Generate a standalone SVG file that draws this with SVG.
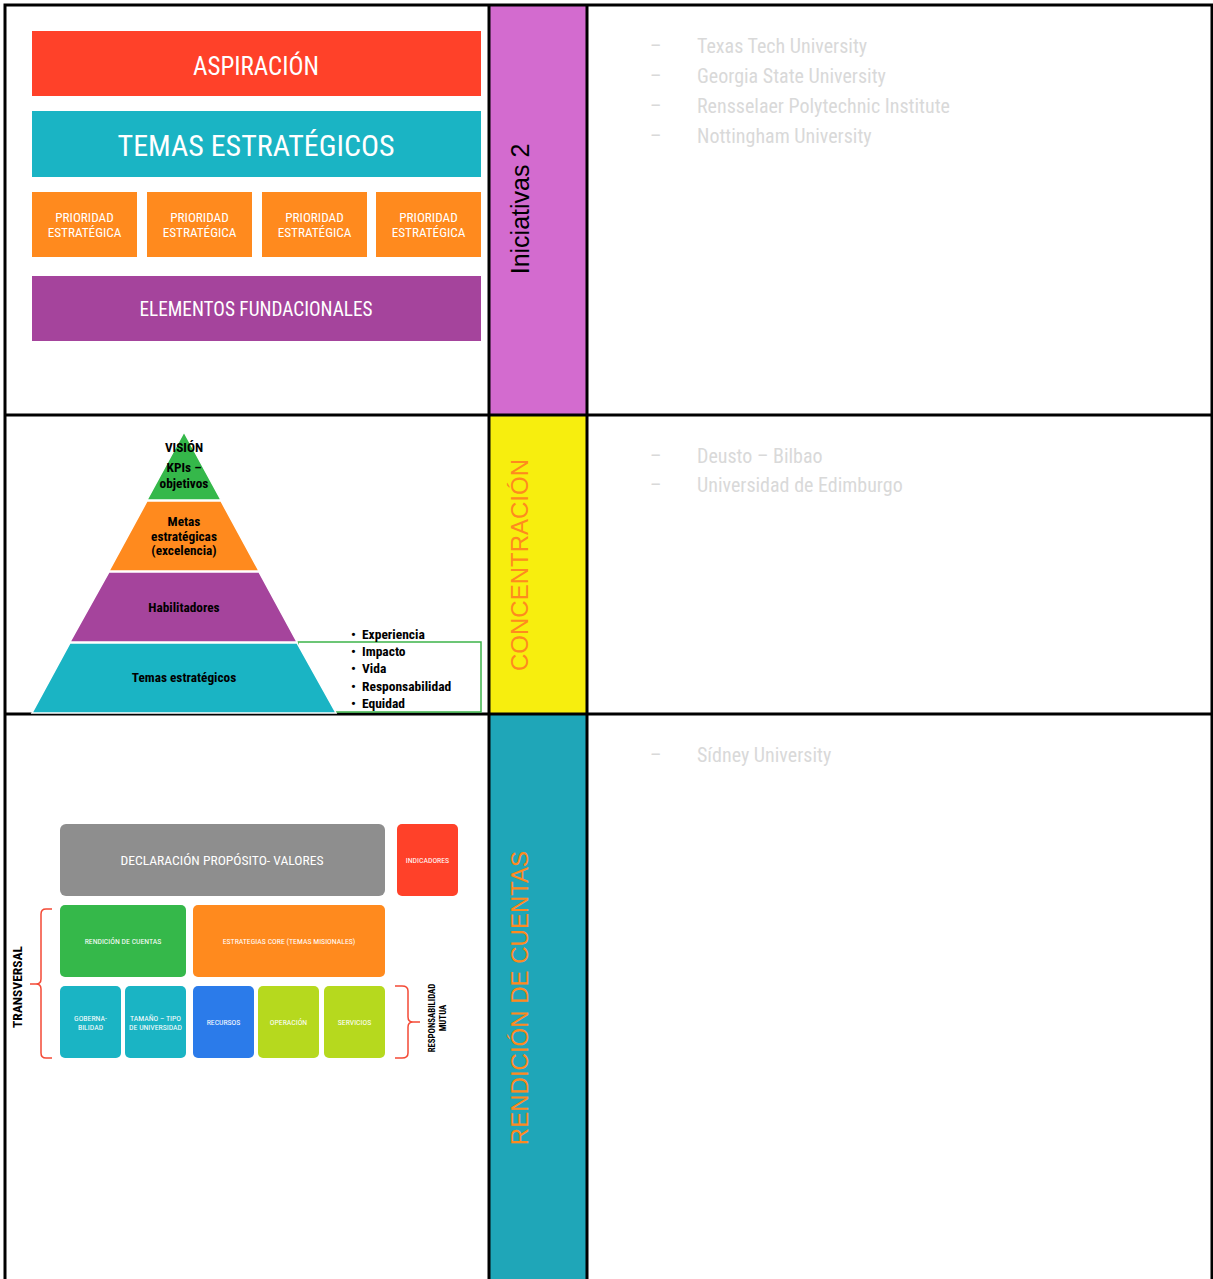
<svg xmlns="http://www.w3.org/2000/svg" width="1213" height="1279" viewBox="0 0 1213 1279">
<style>
.n{font-family:"Liberation Sans Narrow","Roboto Condensed","Liberation Sans",Arial,sans-serif}
.w{fill:#fff}
.b{fill:#000;font-weight:bold}
.g{fill:#d9d9d9;font-size:20px}
.v{fill:#ff8a1e;font-family:"Liberation Sans",Arial,sans-serif;font-size:24px}
.grid{stroke:#000;stroke-width:3;fill:none}
.br{stroke:#f44a36;stroke-width:1.5;fill:none}
.s{font-size:7.8px}
</style>
<rect width="1213" height="1279" fill="#fff"/>
<rect x="489" y="5" width="98" height="410" fill="#d36bcf"/>
<rect x="489" y="415" width="98" height="299" fill="#f7ee0e"/>
<rect x="489" y="714" width="98" height="565" fill="#1fa6b8"/>
<g id="col-labels">
<text transform="translate(529,209) rotate(-90)" text-anchor="middle" font-family="Liberation Sans,Arial,sans-serif" font-size="25" fill="#000">Iniciativas 2</text>
<text class="v" transform="translate(528,565) rotate(-90)" text-anchor="middle">CONCENTRACIÓN</text>
<text class="v" transform="translate(528,998) rotate(-90)" text-anchor="middle">RENDICIÓN DE CUENTAS</text>
</g>
<g id="grid" class="grid">
<path d="M5,1279 V5 H1212 V1279"/>
<path d="M489,5 V1279 M587,5 V1279 M5,415 H1212 M5,714 H1212"/>
</g>
<g id="aspiracion"><rect x="32" y="31" width="449" height="65" fill="#ff4129"/><text class="n w" x="256" y="75" font-size="25" text-anchor="middle">ASPIRACIÓN</text></g>
<g id="temas"><rect x="32" y="111" width="449" height="66" fill="#1ab4c4"/><text class="n w" x="256" y="156" font-size="30" text-anchor="middle">TEMAS ESTRATÉGICOS</text></g>
<g id="prioridades" class="n w" font-size="13.2" text-anchor="middle">
<rect x="32" y="192" width="105" height="65" fill="#ff8a1e"/><text x="84.5" y="222">PRIORIDAD</text><text x="84.5" y="237">ESTRATÉGICA</text>
<rect x="147" y="192" width="105" height="65" fill="#ff8a1e"/><text x="199.5" y="222">PRIORIDAD</text><text x="199.5" y="237">ESTRATÉGICA</text>
<rect x="262" y="192" width="105" height="65" fill="#ff8a1e"/><text x="314.5" y="222">PRIORIDAD</text><text x="314.5" y="237">ESTRATÉGICA</text>
<rect x="376" y="192" width="105" height="65" fill="#ff8a1e"/><text x="428.5" y="222">PRIORIDAD</text><text x="428.5" y="237">ESTRATÉGICA</text>
</g>
<g id="elementos"><rect x="32" y="276" width="449" height="65" fill="#a5449c"/><text class="n w" x="256" y="316" font-size="19.3" text-anchor="middle">ELEMENTOS FUNDACIONALES</text></g>
<g id="list1" class="n g">
<text x="650" y="53">–</text><text x="697" y="53">Texas Tech University</text>
<text x="650" y="83">–</text><text x="697" y="83">Georgia State University</text>
<text x="650" y="113">–</text><text x="697" y="113">Rensselaer Polytechnic Institute</text>
<text x="650" y="143">–</text><text x="697" y="143">Nottingham University</text>
</g>
<g id="valores-box"><rect x="298" y="642" width="183" height="70" fill="#fff" stroke="#3cb44a" stroke-width="1.5"/></g>
<g id="piramide" stroke="#fff" stroke-width="1.5">
<polygon points="184,432 221,500 147,500" fill="#35b84a"/>
<polygon points="147,501 221,501 259,571 109,571" fill="#ff8a1e"/>
<polygon points="109,572 259,572 297,642 70,642" fill="#a5449c"/>
<polygon points="70,643 297,643 336,713 32,713" fill="#1ab4c4"/>
</g>
<g id="piramide-text" class="n b" font-size="13.3" text-anchor="middle">
<text x="184" y="452">VISIÓN</text>
<text x="184" y="472">KPIs –</text>
<text x="184" y="488">objetivos</text>
<text x="184" y="526">Metas</text>
<text x="184" y="541">estratégicas</text>
<text x="184" y="555">(excelencia)</text>
<text x="184" y="612">Habilitadores</text>
<text x="184" y="682">Temas estratégicos</text>
</g>
<g id="bullets" class="n b" font-size="13.5">
<text x="351" y="639">•</text><text x="362" y="639">Experiencia</text>
<text x="351" y="656">•</text><text x="362" y="656">Impacto</text>
<text x="351" y="673">•</text><text x="362" y="673">Vida</text>
<text x="351" y="691">•</text><text x="362" y="691">Responsabilidad</text>
<text x="351" y="708">•</text><text x="362" y="708">Equidad</text>
</g>
<g id="list2" class="n g">
<text x="650" y="463">–</text><text x="697" y="463">Deusto – Bilbao</text>
<text x="650" y="492">–</text><text x="697" y="492">Universidad de Edimburgo</text>
</g>
<g id="declaracion"><rect x="60" y="824" width="325" height="72" rx="6" fill="#8e8e8e"/><text class="n w" x="222" y="865" font-size="13.6" text-anchor="middle">DECLARACIÓN PROPÓSITO- VALORES</text></g>
<g id="indicadores"><rect x="397" y="824" width="61" height="72" rx="5" fill="#ff4129"/><text class="n w s" x="427.5" y="863" text-anchor="middle">INDICADORES</text></g>
<g id="rendicion"><rect x="60" y="905" width="126" height="72" rx="5" fill="#35b84a"/><text class="n w s" x="123" y="944" text-anchor="middle">RENDICIÓN DE CUENTAS</text></g>
<g id="estrategias"><rect x="193" y="905" width="192" height="72" rx="5" fill="#ff8a1e"/><text class="n w s" x="289" y="944" text-anchor="middle">ESTRATEGIAS CORE (TEMAS MISIONALES)</text></g>
<g id="gobernabilidad"><rect x="60" y="986" width="61" height="72" rx="5" fill="#1ab4c4"/><text class="n w s" x="90.5" y="1021" text-anchor="middle">GOBERNA-</text><text class="n w s" x="90.5" y="1029.5" text-anchor="middle">BILIDAD</text></g>
<g id="tamano"><rect x="125" y="986" width="61" height="72" rx="5" fill="#1ab4c4"/><text class="n w s" x="155.5" y="1021" text-anchor="middle">TAMAÑO – TIPO</text><text class="n w s" x="155.5" y="1029.5" text-anchor="middle">DE UNIVERSIDAD</text></g>
<g id="recursos"><rect x="193" y="986" width="61" height="72" rx="5" fill="#2b7bea"/><text class="n w s" x="223.5" y="1025" text-anchor="middle">RECURSOS</text></g>
<g id="operacion"><rect x="258" y="986" width="61" height="72" rx="5" fill="#b6d91e"/><text class="n w s" x="288.5" y="1025" text-anchor="middle">OPERACIÓN</text></g>
<g id="servicios"><rect x="324" y="986" width="61" height="72" rx="5" fill="#b6d91e"/><text class="n w s" x="354.5" y="1025" text-anchor="middle">SERVICIOS</text></g>
<g id="brackets" class="br">
<path d="M52,909 H46 Q41,909 41,914 V979 Q41,984 36,984 H30 M36,984 Q41,984 41,989 V1053 Q41,1058 46,1058 H52"/>
<path d="M395,986 H402 Q408,986 408,991 V1017 Q408,1022 413,1022 H420 M413,1022 Q408,1022 408,1027 V1053 Q408,1058 402,1058 H395"/>
</g>
<g id="side-labels" class="n b">
<text transform="translate(22,987) rotate(-90)" text-anchor="middle" font-size="13.5">TRANSVERSAL</text>
<text transform="translate(435,1018) rotate(-90)" text-anchor="middle" font-size="8.8">RESPONSABILIDAD</text>
<text transform="translate(446,1018) rotate(-90)" text-anchor="middle" font-size="8.8">MUTUA</text>
</g>
<g id="list3" class="n g">
<text x="650" y="762">–</text><text x="697" y="762">Sídney University</text>
</g>
</svg>
